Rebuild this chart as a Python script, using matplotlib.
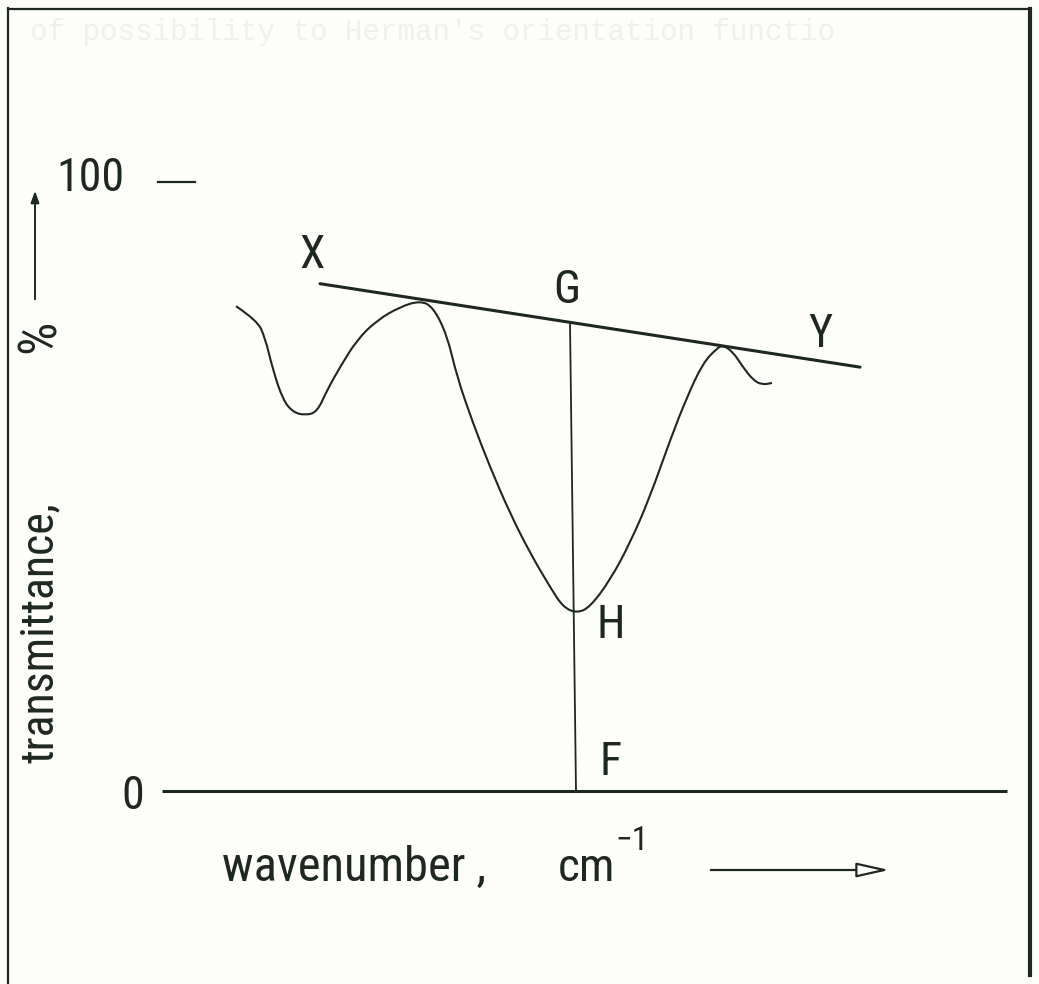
import matplotlib.pyplot as plt
from matplotlib.patches import FancyArrowPatch, PathPatch
from matplotlib.path import Path

# transmittance trace (arbitrary wavenumber position, % transmittance)
wn = [236, 257, 265, 273, 283, 293, 305, 317, 327, 340, 357, 377, 400, 420,
      433, 447, 457, 473, 490, 510, 530, 550, 563, 577, 590, 610, 630, 650,
      670, 687, 703, 717, 723, 733, 743, 753, 762, 772]
trans = [79.6, 77.3, 74.5, 69.1, 64.2, 62.2, 61.7, 62.2, 65.8, 69.6, 74.1, 77.3,
         79.5, 80.5, 79.5, 74.9, 68.0, 60.4, 53.2, 45.6, 39.1, 33.5, 30.2, 29.2,
         30.2, 34.6, 40.7, 48.3, 57.6, 64.7, 70.3, 72.7, 73.2, 72.1, 69.6, 67.5,
         66.7, 67.0]

# baseline tangent X-Y touching the two shoulders
xy_wn = [320, 860]
xy_t = [83.3, 69.6]

# band position (G-H-F) and zero line
band_wn = 573
zero_wn = [162, 1007]
tick_labels = ["100", "0"]

ink = "#1e281e"
font = ["Roboto Condensed", "Liberation Sans", "DejaVu Sans"]

# 6.09 px per % with 0 % at y=791 px
px = 6.09
def ty(ypix):
    return (791 - ypix) / px

fig = plt.figure(figsize=(10.39, 9.84), dpi=100)
fig.patch.set_facecolor("#fdfefb")
ax = fig.add_axes([0, 0, 1, 1])
ax.set_xlim(0, 1039)
ax.set_ylim(ty(984), ty(0))
ax.axis("off")

# frame of the sheet
ax.plot([8, 8], [ty(984), ty(8)], color=ink, lw=1.6)
ax.plot([8, 1030], [ty(9), ty(9)], color=ink, lw=1.6)
ax.plot([1030, 1030], [ty(9), ty(975)], color=ink, lw=3.0)

# faint show-through text at the top edge
ax.text(30, ty(32), "of possibility to Herman's orientation functio",
        family="Liberation Mono", fontsize=21, color="#eef1ec", va="center")

# zero line and 100 % tick
ax.plot(zero_wn, [0, 0], color=ink, lw=2.2, solid_capstyle="butt")
ax.plot([158, 195], [100, 100], color=ink, lw=1.6)
ax.text(90, ty(178), tick_labels[0], family=font, fontsize=33, color=ink,
        ha="center", va="center")
ax.text(133, ty(796), tick_labels[1], family=font, fontsize=33, color=ink,
        ha="center", va="center")

# spectrum drawn as a smooth quadratic path through the read points
pts = list(zip(wn, trans))
verts = [pts[0]]
codes = [Path.MOVETO]
for i in range(1, len(pts) - 1):
    mid = ((pts[i][0] + pts[i + 1][0]) / 2, (pts[i][1] + pts[i + 1][1]) / 2)
    verts += [pts[i], mid]
    codes += [Path.CURVE3, Path.CURVE3]
verts.append(pts[-1])
codes.append(Path.LINETO)
ax.add_patch(PathPatch(Path(verts, codes), fill=False, ec=ink, lw=1.5))

# tangent and G-F ordinate
ax.plot(xy_wn, xy_t, color=ink, lw=2.2, solid_capstyle="round")
g_t = xy_t[0] + (band_wn - xy_wn[0]) * (xy_t[1] - xy_t[0]) / (xy_wn[1] - xy_wn[0])
ax.plot([band_wn - 3, band_wn + 3], [g_t, 0], color=ink, lw=1.3)

for s, x, y in [("X", 312, 255), ("G", 567, 290), ("Y", 820, 334),
                ("H", 611, 625), ("F", 611, 762)]:
    ax.text(x, ty(y), s, family=font, fontsize=33, color=ink,
            ha="center", va="center")

# axis captions with direction arrows
ax.text(40, ty(763), "transmittance,", family=font, fontsize=33, color=ink,
        rotation=90, ha="center", va="bottom")
ax.text(40, ty(336), "%", family=font, fontsize=38, color=ink,
        rotation=90, ha="center", va="center")
ax.add_patch(FancyArrowPatch((35, ty(302)), (35, ty(188)),
                             arrowstyle="-|>,head_length=7,head_width=2.5",
                             color=ink, lw=1.4))

ax.text(222, ty(881), "wavenumber ,", family=font, fontsize=35, color=ink,
        ha="left", va="baseline")
cm = ax.text(558, ty(881), "cm", family=font, fontsize=34, color=ink,
             ha="left", va="baseline")
ax.annotate("\u22121", xy=(1.0, 0.75), xycoords=cm, family=font, fontsize=24,
            color=ink, ha="left", va="bottom")
ax.add_patch(FancyArrowPatch((708, ty(870)), (892, ty(870)),
                             arrowstyle="-|>,head_length=20,head_width=4.5",
                             ec=ink, fc="white", lw=1.6))

fig.savefig("out.png", dpi=100, facecolor=fig.get_facecolor())
